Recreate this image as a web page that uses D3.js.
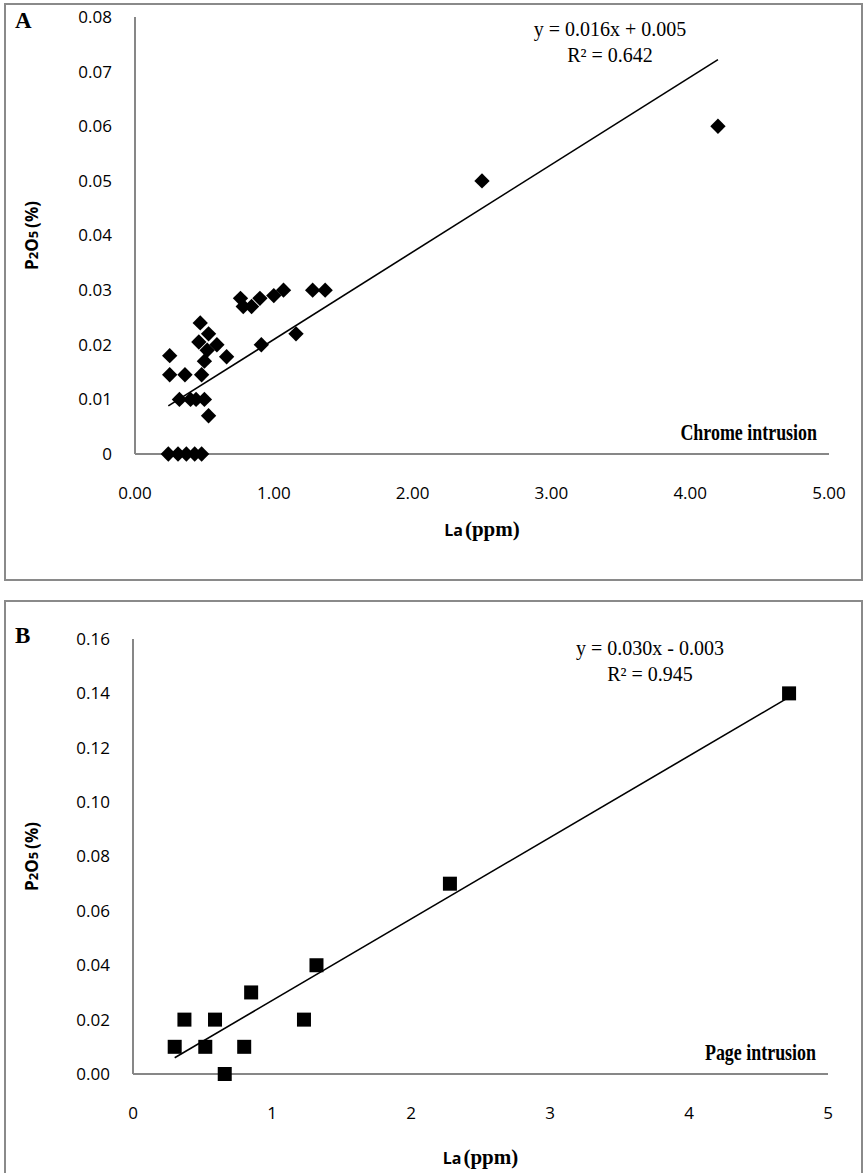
<!DOCTYPE html>
<html lang="en">
  <head>
    <meta charset="UTF-8">
    <script src="https://d3js.org/d3.v7.min.js"></script>
    <style>
      html, body {
        margin: 0;
        padding: 0;
        background: #ffffff;
      }
      #graph {
        display: block;
      }
      .tick-label {
        font-family: "Open Sans", "Noto Sans", sans-serif;
        font-size: 17px;
        fill: #000000;
      }
      .serif {
        font-family: "Liberation Serif", "Times New Roman", serif;
        fill: #000000;
      }
      .sans-bold {
        font-family: "Open Sans", "Noto Sans", sans-serif;
        font-weight: bold;
        fill: #000000;
      }
    </style>
  </head>

  <body>
    <svg id="graph" width="867" height="1173"></svg>

    <script>
      //
      // Panel A : Chrome intrusion (La ppm vs P2O5 %)
      //
      let laA = [0.24, 0.31, 0.37, 0.43, 0.48,
                 0.25, 0.25, 0.36, 0.48, 0.47, 0.46, 0.53, 0.59, 0.50, 0.66, 0.52,
                 0.32, 0.40, 0.44, 0.50, 0.53,
                 0.91, 1.16,
                 0.76, 0.78, 0.84, 0.90, 1.00, 1.07, 1.28, 1.37,
                 2.50, 4.20];
      let pA = [0, 0, 0, 0, 0,
                0.018, 0.0145, 0.0145, 0.0145, 0.024, 0.0205, 0.022, 0.020, 0.017, 0.0178, 0.019,
                0.010, 0.010, 0.010, 0.010, 0.007,
                0.020, 0.022,
                0.0285, 0.027, 0.027, 0.0285, 0.029, 0.030, 0.030, 0.030,
                0.050, 0.060];
      let trendA = [[0.24, 0.0088], [4.20, 0.0722]];
      let xTicksA = [0, 1, 2, 3, 4, 5];
      let yTicksA = [0, 0.01, 0.02, 0.03, 0.04, 0.05, 0.06, 0.07, 0.08];
      let eqA = ['y = 0.016x + 0.005', 'R² = 0.642'];

      //
      // Panel B : Page intrusion
      //
      let laB = [0.30, 0.37, 0.52, 0.59, 0.66, 0.80, 0.85, 1.23, 1.32, 2.28, 4.72];
      let pB = [0.01, 0.02, 0.01, 0.02, 0.00, 0.01, 0.03, 0.02, 0.04, 0.07, 0.14];
      let trendB = [[0.30, 0.006], [4.72, 0.1386]];
      let xTicksB = [0, 1, 2, 3, 4, 5];
      let yTicksB = [0, 0.02, 0.04, 0.06, 0.08, 0.10, 0.12, 0.14, 0.16];
      let eqB = ['y = 0.030x - 0.003', 'R² = 0.945'];

      let svg = d3.select('#graph');
      let axisColor = '#878787';

      function panel(cfg) {
        let g = svg.append('g');

        // outer frame
        g.append('rect')
          .attr('x', cfg.frame[0])
          .attr('y', cfg.frame[1])
          .attr('width', cfg.frame[2])
          .attr('height', cfg.frame[3])
          .attr('fill', 'none')
          .attr('stroke', '#8a8a8a')
          .attr('stroke-width', 2);

        let x = d3.scaleLinear().domain([0, 5]).range([cfg.left, cfg.right]);
        let y = d3.scaleLinear().domain([0, cfg.yMax]).range([cfg.bottom, cfg.top]);

        // axis lines only (no ticks, no grid)
        g.append('line')
          .attr('x1', x(0)).attr('x2', x(0))
          .attr('y1', y(cfg.yMax)).attr('y2', y(0))
          .attr('stroke', axisColor).attr('stroke-width', 2);
        g.append('line')
          .attr('x1', x(0)).attr('x2', x(5))
          .attr('y1', y(0)).attr('y2', y(0))
          .attr('stroke', axisColor).attr('stroke-width', 2);

        g.selectAll('.ytick')
          .data(cfg.yTicks)
          .enter()
          .append('text')
          .attr('class', 'tick-label')
          .attr('x', cfg.left - 23)
          .attr('y', d => y(d))
          .attr('dy', '0.35em')
          .attr('text-anchor', 'end')
          .text(cfg.yFormat);

        g.selectAll('.xtick')
          .data(cfg.xTicks)
          .enter()
          .append('text')
          .attr('class', 'tick-label')
          .attr('x', d => x(d))
          .attr('y', cfg.bottom + 45)
          .attr('text-anchor', 'middle')
          .text(cfg.xFormat);

        // trend line
        g.append('line')
          .attr('x1', x(cfg.trend[0][0])).attr('y1', y(cfg.trend[0][1]))
          .attr('x2', x(cfg.trend[1][0])).attr('y2', y(cfg.trend[1][1]))
          .attr('stroke', '#000000').attr('stroke-width', 1.6);

        // markers
        let pts = cfg.xs.map((d, i) => ({ x: d, y: cfg.ys[i] }));
        if (cfg.marker === 'diamond') {
          g.selectAll('.pt')
            .data(pts)
            .enter()
            .append('path')
            .attr('d', d3.symbol().type(d3.symbolDiamond2).size(150))
            .attr('transform', d => `translate(${x(d.x)},${y(d.y)})`)
            .attr('fill', '#000000');
        } else {
          g.selectAll('.pt')
            .data(pts)
            .enter()
            .append('rect')
            .attr('x', d => x(d.x) - 7)
            .attr('y', d => y(d.y) - 7)
            .attr('width', 14)
            .attr('height', 14)
            .attr('fill', '#000000');
        }

        // equation
        g.selectAll('.eq')
          .data(cfg.eq)
          .enter()
          .append('text')
          .attr('class', 'serif')
          .attr('x', cfg.eqPos[0])
          .attr('y', (d, i) => cfg.eqPos[1] + i * 26)
          .attr('text-anchor', 'middle')
          .attr('font-size', '20px')
          .text(d => d);

        // intrusion label, narrowed like the original condensed serif
        g.append('text')
          .attr('class', 'serif')
          .attr('transform', `translate(${cfg.right - 12},${cfg.bottom - 14}) scale(0.78,1)`)
          .attr('text-anchor', 'end')
          .attr('font-size', '23px')
          .attr('font-weight', 'bold')
          .text(cfg.name);

        // panel letter
        g.append('text')
          .attr('class', 'serif')
          .attr('x', cfg.frame[0] + 10)
          .attr('y', cfg.letterY)
          .attr('font-size', '23px')
          .attr('font-weight', 'bold')
          .text(cfg.letter);

        // x title
        let xt = g.append('text')
          .attr('x', (cfg.left + cfg.right) / 2)
          .attr('y', cfg.bottom + cfg.xTitleGap)
          .attr('text-anchor', 'middle');
        xt.append('tspan').attr('class', 'sans-bold').attr('font-size', '16px').text('La');
        xt.append('tspan').attr('class', 'serif').attr('font-size', '21px')
          .attr('font-weight', 'bold').attr('dx', 2).text('(ppm)');

        // y title
        let yMid = (cfg.top + cfg.bottom) / 2;
        let yt = g.append('text')
          .attr('class', 'sans-bold')
          .attr('font-size', '17px')
          .attr('text-anchor', 'middle')
          .attr('transform', `translate(38,${yMid}) rotate(-90)`);
        yt.append('tspan').text('P');
        yt.append('tspan').attr('font-size', '13px').text('2');
        yt.append('tspan').text('O');
        yt.append('tspan').attr('font-size', '13px').text('5');
        yt.append('tspan').attr('dx', 3).text('(%)');
      }

      panel({
        frame: [5, 4, 857, 576],
        left: 135, right: 829, top: 17, bottom: 454,
        yMax: 0.08,
        xs: laA, ys: pA, trend: trendA,
        xTicks: xTicksA, yTicks: yTicksA,
        xFormat: d3.format('.2f'),
        yFormat: d => d === 0 ? '0' : d3.format('.2f')(d),
        marker: 'diamond',
        eq: eqA, eqPos: [610, 36],
        name: 'Chrome intrusion',
        letter: 'A', letterY: 28,
        xTitleGap: 82
      });

      panel({
        frame: [5, 601, 857, 580],
        left: 133, right: 828, top: 639, bottom: 1074,
        yMax: 0.16,
        xs: laB, ys: pB, trend: trendB,
        xTicks: xTicksB, yTicks: yTicksB,
        xFormat: d3.format('d'),
        yFormat: d3.format('.2f'),
        marker: 'square',
        eq: eqB, eqPos: [650, 655],
        name: 'Page intrusion',
        letter: 'B', letterY: 643,
        xTitleGap: 90
      });
    </script>
  </body>
</html>
